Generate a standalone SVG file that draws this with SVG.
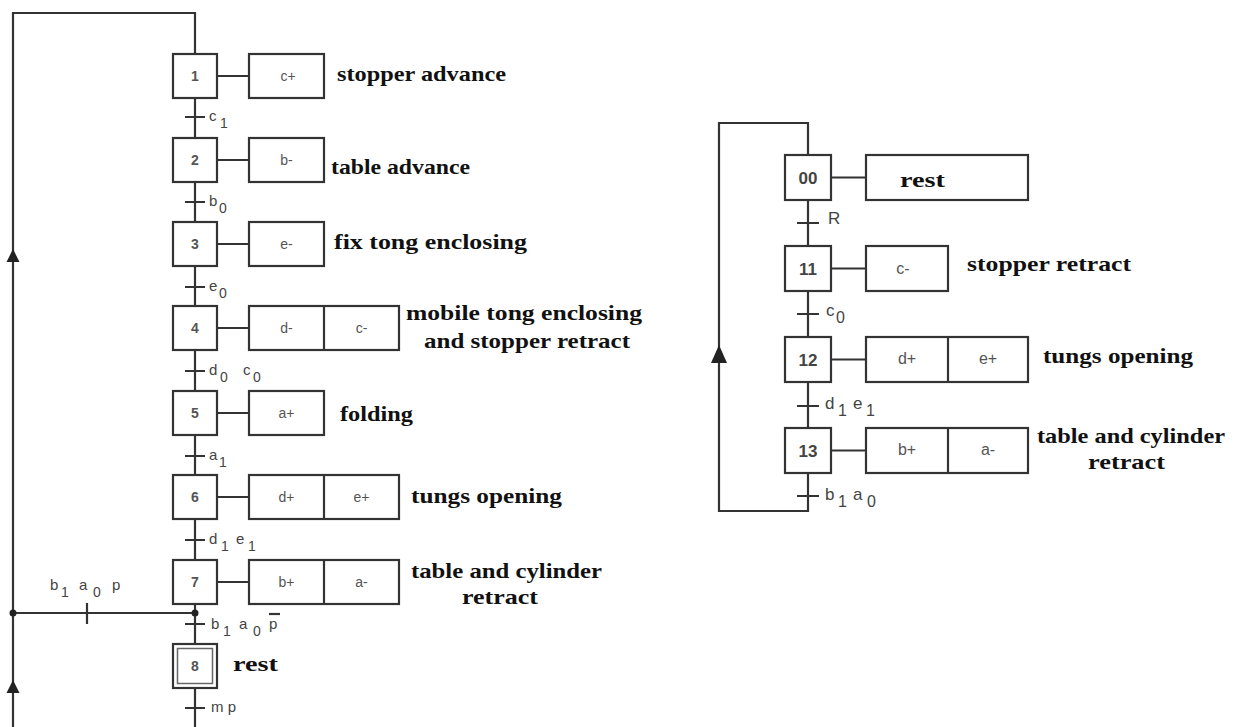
<svg xmlns="http://www.w3.org/2000/svg" width="1238" height="727" viewBox="0 0 1238 727">
<style>
.bg{fill:#fff}
.ln{fill:none;stroke:#333;stroke-width:2.2}
.box{fill:#fff;stroke:#333;stroke-width:2.2}
.lbl{font-family:"Liberation Serif",serif;font-weight:bold;font-size:22px;fill:#111}
.num{font-family:"Liberation Sans",sans-serif;font-size:14px;font-weight:bold;fill:#555;text-anchor:middle}
.rnum{font-family:"Liberation Sans",sans-serif;font-size:17px;font-weight:bold;fill:#444;text-anchor:middle}
.act{font-family:"Liberation Sans",sans-serif;font-size:14px;fill:#555;text-anchor:middle}
.ract{font-family:"Liberation Sans",sans-serif;font-size:16px;fill:#555;text-anchor:middle}
.tr{font-family:"Liberation Sans",sans-serif;font-size:15px;fill:#444}
.rtr{font-family:"Liberation Sans",sans-serif;font-size:17px;fill:#444}
.sub{font-size:14px}
.rsub{font-size:16px}
.arr{fill:#222}
</style>
<rect class="bg" x="0" y="0" width="1238" height="727"/>
<g id="connectors">
  <path class="ln" d="M195,54 V13 H13 V727"/>
  <path class="ln" d="M195,98 V138 M195,182 V222 M195,266 V306 M195,350 V391 M195,435 V475 M195,519 V560 M195,604 V644 M195,688 V727"/>
  <path class="ln" d="M13,613 H195"/>
  <circle class="arr" cx="13" cy="613" r="3.5"/>
  <circle class="arr" cx="195" cy="613" r="3.5"/>
  <path class="ln" d="M87,603 V624"/>
  <path class="ln" d="M185,117 H205 M185,202 H205 M185,287 H205 M185,371 H205 M185,456 H205 M185,540 H205 M185,624 H205 M185,708 H205"/>
  <path class="ln" d="M217,76 H249 M217,160 H249 M217,244 H249 M217,328 H249 M217,413 H249 M217,497 H249 M217,582 H249"/>
  <polygon class="arr" points="13,249 6.5,262 19.5,262"/>
  <polygon class="arr" points="13,680 6.5,693 19.5,693"/>
  <path class="ln" d="M808,155 V123 H719 V511 H808 V473"/>
  <path class="ln" d="M808,200 V246 M808,291 V337 M808,382 V428"/>
  <path class="ln" d="M797,223 H819 M797,314 H819 M797,406 H819 M797,496 H819"/>
  <path class="ln" d="M831,177.5 H866 M831,268.5 H866 M831,359.5 H866 M831,450.5 H866"/>
  <polygon class="arr" points="719,345 711,363 727,363"/>
</g>
<g id="step1"><rect class="box" x="173" y="54" width="44" height="44"/><text class="num" x="195" y="81">1</text></g>
<g id="action1"><rect class="box" x="249" y="54" width="75" height="44"/><text class="act" x="288" y="81">c+</text></g>
<g id="step2"><rect class="box" x="173" y="138" width="44" height="44"/><text class="num" x="195" y="165">2</text></g>
<g id="action2"><rect class="box" x="249" y="138" width="75" height="44"/><text class="act" x="286.5" y="165">b-</text></g>
<g id="step3"><rect class="box" x="173" y="222" width="44" height="44"/><text class="num" x="195" y="249">3</text></g>
<g id="action3"><rect class="box" x="249" y="222" width="75" height="44"/><text class="act" x="286.5" y="249">e-</text></g>
<g id="step4"><rect class="box" x="173" y="306" width="44" height="44"/><text class="num" x="195" y="333">4</text></g>
<g id="action4"><rect class="box" x="249" y="306" width="150" height="44"/><path class="ln" d="M324,306 V350"/><text class="act" x="286.5" y="333">d-</text><text class="act" x="361.5" y="333">c-</text></g>
<g id="step5"><rect class="box" x="173" y="391" width="44" height="44"/><text class="num" x="195" y="418">5</text></g>
<g id="action5"><rect class="box" x="249" y="391" width="75" height="44"/><text class="act" x="286.5" y="418">a+</text></g>
<g id="step6"><rect class="box" x="173" y="475" width="44" height="44"/><text class="num" x="195" y="502">6</text></g>
<g id="action6"><rect class="box" x="249" y="475" width="150" height="44"/><path class="ln" d="M324,475 V519"/><text class="act" x="286.5" y="502">d+</text><text class="act" x="361.5" y="502">e+</text></g>
<g id="step7"><rect class="box" x="173" y="560" width="44" height="44"/><text class="num" x="195" y="587">7</text></g>
<g id="action7"><rect class="box" x="249" y="560" width="150" height="44"/><path class="ln" d="M324,560 V604"/><text class="act" x="286.5" y="587">b+</text><text class="act" x="361.5" y="587">a-</text></g>
<g id="step8"><rect class="box" x="173" y="644" width="44" height="44"/><rect x="177.5" y="648.5" width="35" height="35" fill="none" stroke="#666" stroke-width="1.5"/><text class="num" x="195" y="671">8</text></g>
<g id="labels-left">
  <text class="lbl" x="337" y="81" textLength="169" lengthAdjust="spacingAndGlyphs">stopper advance</text>
  <text class="lbl" x="331" y="174" textLength="139" lengthAdjust="spacingAndGlyphs">table advance</text>
  <text class="lbl" x="334" y="249" textLength="193" lengthAdjust="spacingAndGlyphs">fix tong enclosing</text>
  <text class="lbl" x="406" y="320" textLength="236" lengthAdjust="spacingAndGlyphs">mobile tong enclosing</text>
  <text class="lbl" x="424" y="348" textLength="206" lengthAdjust="spacingAndGlyphs">and stopper retract</text>
  <text class="lbl" x="340" y="421" textLength="73" lengthAdjust="spacingAndGlyphs">folding</text>
  <text class="lbl" x="411" y="503" textLength="151" lengthAdjust="spacingAndGlyphs">tungs opening</text>
  <text class="lbl" x="411" y="578" textLength="191" lengthAdjust="spacingAndGlyphs">table and cylinder</text>
  <text class="lbl" x="462" y="604" textLength="76" lengthAdjust="spacingAndGlyphs">retract</text>
  <text class="lbl" x="233" y="671" textLength="45" lengthAdjust="spacingAndGlyphs">rest</text>
</g>
<g id="transitions-left">
  <text class="tr" x="209" y="121">c<tspan class="sub" x="220" y="128">1</tspan></text>
  <text class="tr" x="209" y="206">b<tspan class="sub" x="219" y="213">0</tspan></text>
  <text class="tr" x="209" y="291">e<tspan class="sub" x="219" y="298">0</tspan></text>
  <text class="tr" x="209" y="375">d<tspan class="sub" x="220" y="382">0</tspan><tspan x="243" y="375">c</tspan><tspan class="sub" x="253" y="382">0</tspan></text>
  <text class="tr" x="209" y="460">a<tspan class="sub" x="219" y="467">1</tspan></text>
  <text class="tr" x="209" y="544">d<tspan class="sub" x="221" y="551">1</tspan><tspan x="236" y="544">e</tspan><tspan class="sub" x="248" y="551">1</tspan></text>
  <text class="tr" x="211" y="629">b<tspan class="sub" x="223" y="636">1</tspan><tspan x="239" y="629">a</tspan><tspan class="sub" x="253" y="636">0</tspan><tspan x="269" y="629">p</tspan></text>
  <path class="ln" d="M269,614 H280" stroke-width="1.8"/>
  <text class="tr" x="211" y="712">m p</text>
  <text class="tr" x="50" y="590">b<tspan class="sub" x="61" y="597">1</tspan><tspan x="79" y="590">a</tspan><tspan class="sub" x="93" y="597">0</tspan><tspan x="112" y="590">p</tspan></text>
</g>
<g id="step00"><rect class="box" x="785" y="155" width="46" height="45"/><text class="rnum" x="808" y="184">00</text></g>
<g id="action00"><rect class="box" x="866" y="155" width="162" height="45"/><text class="lbl" x="900" y="187" textLength="45" lengthAdjust="spacingAndGlyphs">rest</text></g>
<g id="step11"><rect class="box" x="785" y="246" width="46" height="45"/><text class="rnum" x="808" y="275">11</text></g>
<g id="action11"><rect class="box" x="866" y="246" width="82" height="45"/><text class="ract" x="903" y="274">c-</text></g>
<g id="step12"><rect class="box" x="785" y="337" width="46" height="45"/><text class="rnum" x="808" y="366">12</text></g>
<g id="action12"><rect class="box" x="866" y="337" width="162" height="45"/><path class="ln" d="M948,337 V382"/><text class="ract" x="907" y="364">d+</text><text class="ract" x="988" y="364">e+</text></g>
<g id="step13"><rect class="box" x="785" y="428" width="46" height="45"/><text class="rnum" x="808" y="457">13</text></g>
<g id="action13"><rect class="box" x="866" y="428" width="162" height="45"/><path class="ln" d="M948,428 V473"/><text class="ract" x="907" y="455">b+</text><text class="ract" x="988" y="455">a-</text></g>
<g id="labels-right">
  <text class="lbl" x="967" y="271" textLength="164" lengthAdjust="spacingAndGlyphs">stopper retract</text>
  <text class="lbl" x="1043" y="363" textLength="150" lengthAdjust="spacingAndGlyphs">tungs opening</text>
  <text class="lbl" x="1037" y="443" textLength="188" lengthAdjust="spacingAndGlyphs">table and cylinder</text>
  <text class="lbl" x="1088" y="469" textLength="77" lengthAdjust="spacingAndGlyphs">retract</text>
</g>
<g id="transitions-right">
  <text class="rtr" x="828" y="224">R</text>
  <text class="rtr" x="826" y="316">c<tspan class="rsub" x="836" y="323">0</tspan></text>
  <text class="rtr" x="825" y="409">d<tspan class="rsub" x="838" y="416">1</tspan><tspan x="853" y="409">e</tspan><tspan class="rsub" x="866" y="416">1</tspan></text>
  <text class="rtr" x="825" y="500">b<tspan class="rsub" x="838" y="507">1</tspan><tspan x="853" y="500">a</tspan><tspan class="rsub" x="867" y="507">0</tspan></text>
</g>
</svg>
